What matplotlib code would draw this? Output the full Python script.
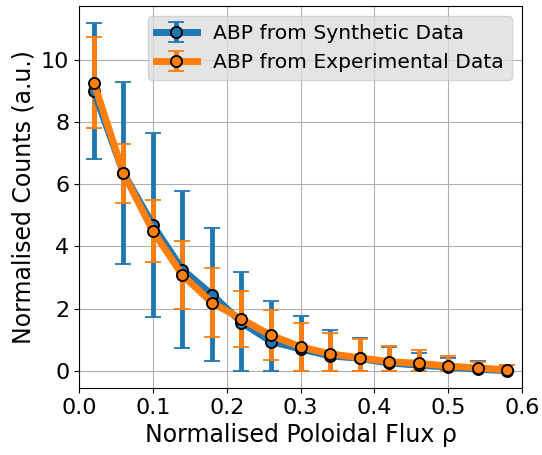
import numpy as np
import matplotlib
matplotlib.use("Agg")
import matplotlib.pyplot as plt

# Radial positions (normalised poloidal flux)
rho = [0.02, 0.06, 0.10, 0.14, 0.18, 0.22, 0.26, 0.30, 0.34, 0.38, 0.42, 0.46, 0.50, 0.54, 0.58]

# ABP profile from synthetic data
synth_counts = [8.99, 6.36, 4.68, 3.25, 2.45, 1.55, 0.94, 0.70, 0.48, 0.40, 0.25, 0.18, 0.12, 0.05, 0.00]
synth_err = [2.18, 2.92, 2.96, 2.53, 2.13, 1.64, 1.29, 1.07, 0.83, 0.66, 0.52, 0.39, 0.28, 0.26, 0.20]

# ABP profile from experimental data
exp_counts = [9.26, 6.35, 4.49, 3.07, 2.19, 1.66, 1.14, 0.77, 0.54, 0.42, 0.29, 0.24, 0.15, 0.09, 0.03]
exp_err = [1.46, 0.95, 1.00, 1.09, 1.10, 0.90, 0.81, 0.77, 0.67, 0.60, 0.51, 0.44, 0.33, 0.20, 0.14]

series = [
    ("ABP from Synthetic Data", synth_counts, synth_err, "tab:blue"),
    ("ABP from Experimental Data", exp_counts, exp_err, "tab:orange"),
]

fig = plt.figure(figsize=(5.42, 4.55), dpi=100)
ax = fig.add_axes([0.146, 0.147, 0.817, 0.840])

for label, vals, err, color in series:
    vals = np.asarray(vals)
    err = np.asarray(err)
    lower = np.minimum(err, vals)  # counts cannot go negative
    ax.errorbar(rho, vals, yerr=[lower, err], color=color, lw=5,
                elinewidth=3.5, capsize=6, capthick=2,
                marker="o", ms=8, mfc=color, mec="black", mew=1.3,
                label=label, zorder=3)

ax.set_xlim(0, 0.6)
ax.grid(True, color="#b0b0b0", lw=0.8)
ax.tick_params(labelsize=16)
ax.set_xlabel("Normalised Poloidal Flux ρ", fontsize=17)
ax.set_ylabel("Normalised Counts (a.u.)", fontsize=17)
leg = ax.legend(loc="upper right", fontsize=14.6, facecolor="#dedede",
                framealpha=0.8, edgecolor="#cccccc")

fig.savefig("out.png", dpi=100)
